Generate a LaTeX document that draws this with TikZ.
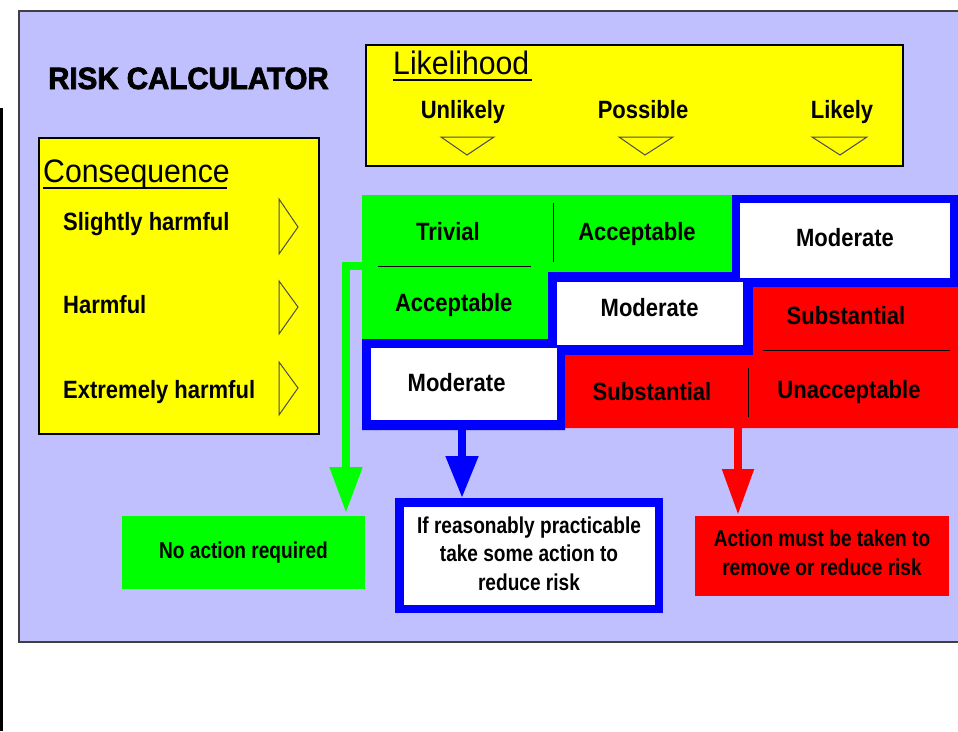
\documentclass[tikz,border=0pt]{standalone}
\usepackage{fontspec}
\setmainfont{Liberation Sans}
\newfontfamily\labfont[FakeStretch=0.88]{Liberation Sans}
\newfontfamily\headfont[FakeStretch=0.93]{Liberation Sans}
\newfontfamily\narfont[FakeStretch=0.83]{Liberation Sans}
\newfontfamily\titfont[FakeStretch=0.96,FakeBold=2.5]{Liberation Sans}
\usetikzlibrary{arrows.meta}
\definecolor{bgpurple}{RGB}{192,192,255}
\definecolor{pgreen}{RGB}{0,255,0}
\definecolor{pblue}{RGB}{0,0,255}
\definecolor{pred}{RGB}{255,0,0}
\definecolor{pyellow}{RGB}{255,255,0}
\begin{document}
\begin{tikzpicture}[x=1pt,y=-1pt,
  lab/.style={font=\labfont\bfseries\fontsize{25}{28}\selectfont, inner sep=0pt, anchor=base},
  head/.style={font=\headfont\fontsize{32.5}{36}\selectfont, inner sep=0pt, anchor=base west},
  titl/.style={font=\titfont\bfseries\fontsize{30.7}{34}\selectfont, inner sep=0pt, anchor=base west},
  act/.style={font=\narfont\bfseries\fontsize{23}{28}\selectfont, inner sep=0pt, anchor=base},
  ybox/.style={fill=pyellow, draw=black, line width=1.5pt},
  tri/.style={draw=black!70, line width=1pt},
  thin/.style={draw=black, line width=1pt},
  garrow/.style={draw=pgreen, line width=8pt, -{Triangle[length=46pt,width=31pt]}},
  barrow/.style={draw=pblue, line width=8pt, -{Triangle[length=42pt,width=31pt]}},
  rarrow/.style={draw=pred, line width=8pt, -{Triangle[length=46pt,width=30pt]}}
]
\useasboundingbox (0,0) rectangle (958,731);
\fill[white] (0,0) rectangle (958,731);
% left black bar
\fill[black] (0,108) rectangle (3,731);
% background panel
\filldraw[fill=bgpurple, draw=black!75, line width=2pt] (19,11) rectangle (962,642);
% title
\node[titl] (title) at (48,89) {RISK CALCULATOR};
% likelihood box
\filldraw[ybox] (366,45) rectangle (903,166);
\node[head] (lik) at (393,74.3) {Likelihood};
\draw[black, line width=2pt] (393,80) -- (532,80);
\node[lab] (unl) at (463,118) {Unlikely};
\node[lab] (pos) at (643,118) {Possible};
\node[lab] (lkl) at (842,118) {Likely};
\draw[tri] (441,137) -- (494,137) -- (467,155) -- cycle;
\draw[tri] (619,137) -- (673,137) -- (645,155) -- cycle;
\draw[tri] (812,137) -- (867,137) -- (840,155) -- cycle;
% consequence box
\filldraw[ybox] (39,138) rectangle (319,434);
\node[head] (con) at (43,182) {Consequence};
\draw[black, line width=2pt] (43,187.5) -- (227,187.5);
\node[lab, anchor=base west] (sh) at (63,230) {Slightly harmful};
\node[lab, anchor=base west] (hf) at (63,313) {Harmful};
\node[lab, anchor=base west] (eh) at (63,398) {Extremely harmful};
\draw[tri] (279,199) -- (279,254) -- (298,227) -- cycle;
\draw[tri] (279,281) -- (279,334) -- (298,307) -- cycle;
\draw[tri] (279,362) -- (279,415) -- (298,388) -- cycle;
% grid: green
\fill[pgreen] (362,195) -- (733,195) -- (733,273) -- (548,273) -- (548,339) -- (362,339) -- cycle;
% grid: blue band
\fill[pblue] (362,339) -- (548,339) -- (548,272) -- (732,272) -- (732,195) -- (962,195) -- (962,287)
  -- (753,287) -- (753,355) -- (565,355) -- (565,430) -- (362,430) -- cycle;
\fill[white] (740,203) rectangle (950,278);
\fill[white] (557,282) rectangle (743,345);
\fill[white] (371,348) rectangle (557,420);
% grid: red
\fill[pred] (753,287) -- (962,287) -- (962,428) -- (565,428) -- (565,355) -- (753,355) -- cycle;
% thin dividers
\draw[thin] (378,266) -- (531,266);
\draw[thin] (553,203) -- (553,262);
\draw[thin] (763,350) -- (950,350);
\draw[thin] (748,368) -- (748,417);
% cell labels
\node[lab] (triv) at (448,240) {Trivial};
\node[lab] (acc1) at (637,240) {Acceptable};
\node[lab] (modtr) at (845,246.7) {Moderate};
\node[lab] (acc2) at (453.7,311.7) {Acceptable};
\node[lab] (modm) at (649.6,316.7) {Moderate};
\node[lab] (subtr) at (846,324) {Substantial};
\node[lab] (modbl) at (456.6,391.7) {Moderate};
\node[lab] (subb) at (652,400) {Substantial};
\node[lab] (unacc) at (849,398) {Unacceptable};
% action boxes
\node[fill=pgreen, inner sep=0pt, minimum width=243pt, minimum height=73pt] (noact) at (243.5,552.5) {};
\node[act] (noactt) at (243.5,558.3) {No action required};
\node[fill=white, draw=pblue, line width=8.5pt, inner sep=0pt, minimum width=259.5pt, minimum height=106.5pt] (some) at (529,555.5) {};
\node[act] (s1) at (529,533.5) {If reasonably practicable};
\node[act] (s2) at (529,561.7) {take some action to};
\node[act] (s3) at (529,590) {reduce risk};
\node[fill=pred, inner sep=0pt, minimum width=254pt, minimum height=80pt] (must) at (822,556) {};
\node[act] (m1) at (822,546.7) {Action must be taken to};
\node[act] (m2) at (822,575) {remove or reduce risk};
% connectors
\coordinate (gs) at (362,266);
\coordinate (gt) at (346,513);
\coordinate (bs) at (462,430);
\coordinate (bt) at (462,498);
\coordinate (rs) at (738,428);
\coordinate (rt) at (738,515);
\draw[garrow] (gs) -| (gt);
\draw[barrow] (bs) -- (bt);
\draw[rarrow] (rs) -- (rt);
\end{tikzpicture}
\end{document}
